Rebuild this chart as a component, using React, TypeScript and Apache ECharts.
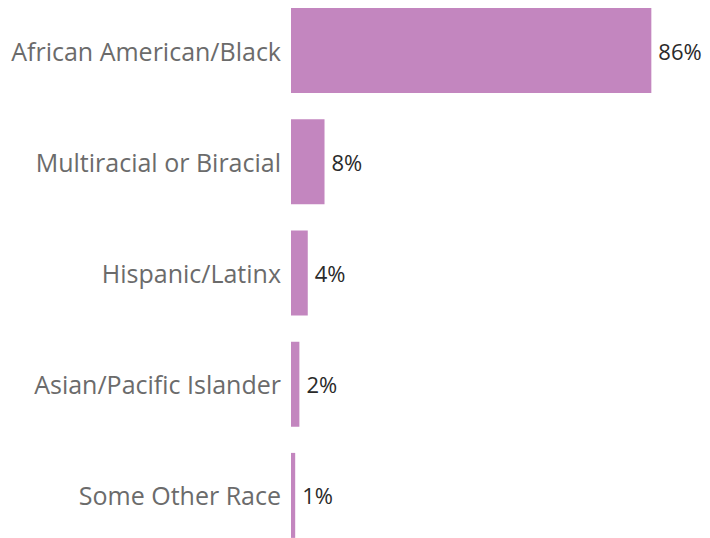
import React, { useEffect, useRef } from "react";
import * as echarts from "echarts";

const categories = [
  "African American/Black",
  "Multiracial or Biracial",
  "Hispanic/Latinx",
  "Asian/Pacific Islander",
  "Some Other Race",
];
const values = [86, 8, 4, 2, 1];

export default function App() {
  const ref = useRef<HTMLDivElement>(null);
  useEffect(() => {
    const chart = echarts.init(ref.current!, null, { renderer: "svg" });
    chart.setOption({
      animation: false,
      grid: { left: 291, top: 6, width: 420, height: 556, containLabel: false },
      xAxis: {
        type: "value",
        min: 0,
        max: 100,
        show: false,
      },
      yAxis: {
        type: "category",
        inverse: true,
        data: categories,
        axisLine: { show: false },
        axisTick: { show: false },
        axisLabel: {
          color: "#6b6b6b",
          fontSize: 25,
          fontFamily: "Open Sans",
          margin: 10,
        },
      },
      series: [
        {
          type: "bar",
          data: values,
          barWidth: 85,
          itemStyle: { color: "#c386bf" },
          label: {
            show: true,
            position: "right",
            distance: 7,
            formatter: "{c}%",
            color: "#2a2a2a",
            fontSize: 22,
            fontFamily: "Open Sans",
          },
        },
      ],
    });
    return () => chart.dispose();
  }, []);
  return (
    <div
      ref={ref}
      style={{ position: "fixed", left: 0, top: -11, width: 710, height: 570, background: "#fff" }}
    />
  );
}
